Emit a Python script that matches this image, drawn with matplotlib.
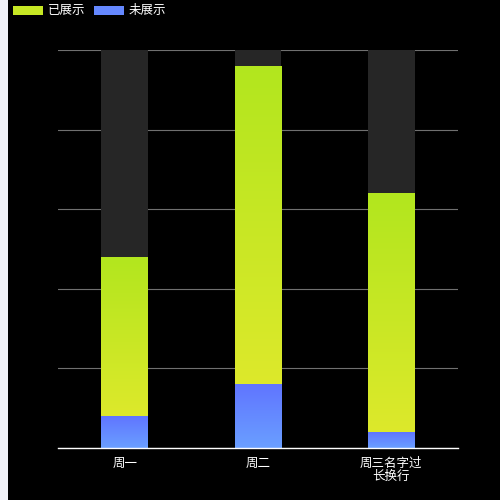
import numpy as np
import matplotlib
matplotlib.use('Agg')
import matplotlib.pyplot as plt
from matplotlib.colors import LinearSegmentedColormap
from matplotlib.patches import Rectangle

plt.rcParams['font.family'] = ['Noto Sans CJK SC', 'DejaVu Sans']

categories = ['周一', '周二', '周三名字过\n长换行']
shown = [40, 80, 60]      # 已展示
hidden = [8, 16, 4]       # 未展示
total = [100, 100, 100]   # background

green_cmap = LinearSegmentedColormap.from_list('g', ['#dde92b', '#b2e61e'])
blue_cmap = LinearSegmentedColormap.from_list('b', ['#6a9fff', '#6075ff'])

fig = plt.figure(figsize=(5, 5), dpi=100, facecolor='black')
fig.patches.append(Rectangle((0, 0), 8 / 500, 1, transform=fig.transFigure,
                             facecolor='#f1f2f8', edgecolor='none', zorder=0))
ax = fig.add_axes([58 / 500, 52 / 500, 400 / 500, 398 / 500])
ax.set_facecolor('black')

x = np.arange(len(categories))
w = 0.35

ax.bar(x, total, w, color='#262626', zorder=1)


def grad_bar(xc, bottom, height, cmap):
    bars = ax.bar([xc], [height], w, bottom=[bottom], color='none', zorder=3)
    patch = bars[0]
    grad = np.linspace(0, 1, 256).reshape(-1, 1)
    im = ax.imshow(grad, cmap=cmap, aspect='auto', origin='lower',
                   extent=[xc - w / 2, xc + w / 2, bottom, bottom + height],
                   zorder=2)
    im.set_clip_path(patch)


for i in range(len(categories)):
    grad_bar(x[i], 0, hidden[i], blue_cmap)
    grad_bar(x[i], hidden[i], shown[i], green_cmap)

ax.set_xlim(-0.5, len(categories) - 0.5)
ax.set_ylim(0, 100)
ax.set_yticks(np.arange(0, 101, 20))
ax.yaxis.grid(True, color='#707070', linewidth=0.8)
ax.set_axisbelow(True)
ax.tick_params(axis='y', left=False, labelleft=False)
ax.tick_params(axis='x', bottom=False, colors='white', labelsize=9, pad=3)
ax.set_xticks(x)
ax.set_xticklabels(categories, linespacing=0.95)
for s in ['top', 'left', 'right']:
    ax.spines[s].set_visible(False)
ax.spines['bottom'].set_color('white')
ax.spines['bottom'].set_linewidth(1)

# legend
fig.patches.append(Rectangle((13 / 500, 1 - 15 / 500), 30 / 500, 9 / 500,
                             transform=fig.transFigure, facecolor='#c6e724', edgecolor='none'))
fig.text(48 / 500, 1 - 10.5 / 500, '已展示', color='white', fontsize=9, va='center')
fig.patches.append(Rectangle((94 / 500, 1 - 15 / 500), 30 / 500, 9 / 500,
                             transform=fig.transFigure, facecolor='#6588ff', edgecolor='none'))
fig.text(129 / 500, 1 - 10.5 / 500, '未展示', color='white', fontsize=9, va='center')

fig.savefig('out.png', dpi=100, facecolor='black')
